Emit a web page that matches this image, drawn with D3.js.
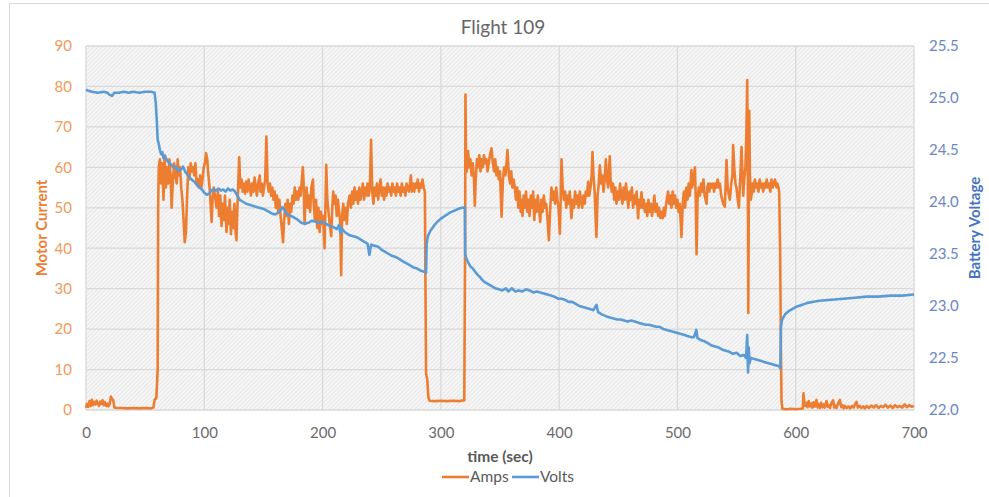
<!DOCTYPE html>
<html>
<head>
<meta charset="utf-8">
<script src="https://cdn.jsdelivr.net/npm/d3@7"></script>
<style>
    html, body { margin: 0; padding: 0; background: #fff; }
    svg { display: block; font-family: Lato, "Open Sans", sans-serif; }
</style>
</head>
<body>
<svg id="chart" width="989" height="497"></svg>
<script>
// values: [time (sec), value]
const ampsSeries = [
    [0,0.5],[1,1.5],[2,0.8],[3,2.2],[4,1.0],[5,2.5],[6,1.2],[7,2.0],[8,1.4],[9,2.3],[10,1.6],[11,1.0],[12,2.1],
    [13,1.5],[14,2.4],[15,1.2],[16,1.9],[17,1.0],[18,1.6],[19,0.9],[20,1.4],[21,3.3],[22,2.8],[23,2.4],[24,0.6],
    [26,0.5],[30,0.5],[35,0.4],[40,0.5],[45,0.4],[50,0.5],[55,0.4],[57,0.6],[58,2.5],[59.5,3.0],[60.6,10],
    [61,50],[61.5,60],[62.5,62],[63.5,56],[64.5,61],[65.5,52],[66.5,63],[67.5,55],[68.5,60],[69.5,56],[70.5,62],
    [71.5,58],[72.4,50],[73.5,57],[74.5,61],[75.5,58],[76.7,56],[77.5,62],[78.5,58],[79.5,60],[80.5,55],[81.5,52],
    [82.5,47],[83.5,41.5],[84.5,44],[85.5,53],[86.5,60],[87.5,57],[88.5,61],[89.5,59],[90.7,60],[91.5,58],[92.5,61],
    [93.5,56],[94.5,57],[95.5,55],[96.5,58],[97.5,55],[98.5,57],[99.5,60],[100.5,61],[101.5,63.5],[102.5,62],
    [103.5,58],[104.5,55],[105.5,50],[106.2,46.5],[107,52],[108,55],[109,53],[110.4,50],[111.5,54],[112.5,48],
    [113.5,53],[114.6,45.5],[115.5,51],[116.5,47],[117.5,53],[118.8,44],[119.5,50],[120.5,46],[121.5,52],
    [122.5,43.5],[123.5,49],[124.5,45],[125.5,51],[126.5,44],[127.2,42],[128,50],[129.5,62.5],[130.5,55],
    [131.5,57],[132.5,54],[133.5,56],[134.5,53.5],[135.5,56.5],[136.5,54],[137.5,57],[138.5,55],[139.5,53],
    [140.5,56],[141.5,54],[142.5,57.5],[143.5,55],[144.5,53],[145.5,56],[146.9,58],[147.5,54],[148.5,56],
    [149.5,53],[150.5,55],[151.5,57],[152.5,67.6],[153.5,56],[154.5,54],[155.5,56],[156.5,53],[157.5,55],
    [158.5,52],[159.5,54],[160.5,50],[161.5,53],[162.5,49],[163.5,52],[164.5,48],[165.5,45],[166.6,41.5],
    [167.5,47],[168.5,51],[169.5,48],[170.5,52],[171.5,46],[172.5,51],[173.5,49],[174.5,53],[175.5,51],
    [176.5,55],[177.5,52],[178.5,54],[179.5,52],[180.5,55],[181.5,53],[182.5,57],[183.3,60],[184,56],[184.8,46],
    [185.5,52],[186.5,55],[187.5,50],[188.5,53],[189.5,49],[190.5,55],[191.9,57],[192.5,51],[193.5,47],
    [194.5,52],[195.5,45],[196.5,50],[197.5,44],[198.5,49],[199.5,46],[200.5,48],[201.7,40],[202.4,50],
    [203.1,60.6],[204,52],[205,49],[206,46],[207.3,43],[208.2,50],[209,54],[210,51],[211,53],[212,48],[213,52],
    [214,49],[215,46],[215.7,33.3],[216.5,48],[217.5,51],[218.5,47],[219.5,50],[220.5,46],[221.5,51],[222.8,53],
    [224,50],[225,54],[226,51],[227,55],[228,52],[229,54],[230,51],[231,55],[232,52],[233,54],[234,56],[235,52],
    [236,55],[237,53],[238,56],[239,53],[240,55],[241,66.8],[242,54],[243,51],[244,55],[245,53],[246,56],[247,52],
    [248,55],[249,57],[250,53],[251,55],[252,52],[253,55],[254,53],[255,56],[256,54],[257,55],[258,53],[259,56],
    [260,54],[261,55],[262,53],[263,56],[264,54],[265,55],[266,53],[267,56],[268,54],[269,55],[270,53],[271,56],
    [272,55],[273,54],[274.7,58],[275.5,54],[276.5,56],[277.5,54],[278.5,56],[279.5,55],[280.5,57],[281.5,54],
    [282.5,56],[283.5,55],[284.5,57],[285.5,55],[286.5,54],[287,30],[287.5,9],[288.5,7.5],[289.5,3],[290.5,2.3],
    [295,2.2],[300,2.3],[305,2.2],[310,2.3],[315,2.2],[319.8,2.4],[320.5,40],[320.8,78],[321.3,62],[322,59],
    [323,64],[324,60],[325,62],[326,58],[327,61],[328,57],[328.7,50.5],[329.5,57],[330.5,62],[331.5,60],
    [332.5,63],[333.5,59],[334.5,62],[335.5,60],[336.5,63],[337.5,61],[338.5,62],[339.5,59],[340.5,61],
    [341.5,63],[342.8,64.7],[344,61],[345,59],[346,62],[347,58],[348,60],[349,57],[350,59],[351.3,47.8],
    [352.5,57],[353.5,60],[354.5,58],[355.5,61],[356.3,64.3],[357.5,58],[358.5,56],[359.5,59],[360.5,55],
    [361.5,57],[362.5,55],[363.5,52],[364.5,55],[365.5,50],[366.5,54],[367.5,49],[368.2,52],[369,48],[370,53],
    [371,50],[372,54],[373,49],[374,52],[375,48],[376,53],[377,50],[378,54],[379,47],[380,52],[381,49],[382,53],
    [383,50],[384,46.5],[385,52],[386,49],[387,53],[388,50],[389,51],[390,48],[391.3,42],[392.5,50],[393.5,55],
    [394.5,52],[395.5,54],[396.5,51],[397.5,55],[398.5,52],[399.5,50],[400.6,43.6],[401.3,52],[402,62],[403,55],
    [404,52],[405,54],[406,50],[407,53],[408,51],[409,54],[410.4,47.4],[411.5,52],[412.5,50],[413.5,54],
    [414.5,51],[415.5,53],[416.5,50],[417.5,54],[418.5,52],[419.5,50],[420.5,53],[421.7,51],[422.5,54],
    [423.5,53],[424.5,56.4],[425.5,53],[426.5,55],[427.5,58],[428.2,63.8],[429,58],[430,54],[431.5,42.8],
    [432.5,53],[433.5,56],[434.4,60.5],[435.5,56],[436.5,58],[437.5,54],[438.5,57],[439.5,62],[440.5,57],
    [441.5,55],[442.8,62.7],[443.5,57],[444.5,54],[445.5,56],[446.5,52],[447.5,55],[448.5,51],[449.5,54],
    [450.5,52],[451.5,56],[452.5,53],[453.5,51],[454.5,55],[455.5,52],[456.5,56],[457.5,53],[458.5,50],
    [459.5,54],[460.5,52],[461.5,55],[462.5,50],[463.5,53],[464.5,51],[465.5,54],[466.8,47.4],[467.5,52],
    [468.5,50],[469.6,53.8],[470.5,50],[471.5,52],[472.5,49],[473.5,51],[474.5,48],[475.5,52],[476.5,49],
    [477.5,51],[478.5,48],[479.5,50],[480.5,53],[481.5,49],[482.5,51],[483.7,48],[484.5,50],[485.5,47.5],
    [486.5,49],[487.5,47.4],[488.5,50],[489.3,48],[490.5,51],[491.5,53],[492.1,54],[493,51],[494,53],[495,50],
    [496,54],[497,51],[498,53],[499,50],[500,52],[501,49],[502,51],[503.4,42.8],[504.5,51],[505.5,54],
    [506.5,50],[507.5,55],[508.5,52],[509.5,56],[510.5,53],[511.8,59.3],[512.5,55],[513.5,57],[514.8,60],
    [515.5,52],[516.2,38.5],[517,52],[518,55],[519,53],[520,56],[521,54],[522,57],[523,53],[524.6,51],
    [525.3,55],[526,56],[527,54],[528,56],[529,55],[530,56],[531,54],[532,56],[533,55],[534,57],[535,55],
    [535.9,56],[537,53],[538.7,51],[540.1,50.3],[541.5,61.8],[542.5,55],[543.5,53],[544.3,52],[545.5,56],
    [546.5,58],[547.1,65.5],[548,60],[549,56],[549.9,55],[551,52],[552,50],[552.7,55],[553.5,60],[554.2,65],
    [555,58],[555.6,53],[556.5,57],[557.5,60],[558.4,70],[559,81.6],[559.5,60],[559.9,24],[560.3,50],[560.7,74],
    [561.3,58],[562,52],[562.6,53],[563.5,56],[564.5,54],[565.5,57],[566.5,55],[567.5,56],[568.5,54],
    [569.5,57],[570.5,55],[571.5,56],[572.5,54],[573.5,56],[574.5,55],[575.5,57],[576.5,55],[577.5,56],
    [578.5,54],[579.5,57],[580.5,55],[581.5,56],[582.5,57],[583.8,55],[584.5,56],[585.5,55],[586,54],
    [586.8,40],[587.5,15],[588,2],[588.8,0.3],[592,0.2],[596,0.3],[600,0.2],[604,0.3],[606,0.4],[606.6,4.1],
    [607.2,2.0],[608,1.0],[609,1.8],[610,0.7],[611,2.2],[612,0.9],[613,1.6],[614,0.6],[615,1.9],[616,0.8],
    [617.6,2.5],[618.5,0.6],[619.5,1.5],[620.5,0.5],[621.5,1.8],[622.5,0.7],[623.5,1.4],[624.5,0.6],[626,2.2],
    [627,0.8],[628,1.2],[629,0.5],[630,1.6],[631.7,2.4],[632.5,0.6],[633.5,1.1],[634.5,0.5],[635.5,1.4],
    [637.3,2.5],[638.5,0.7],[639.5,1.2],[640.5,0.4],[641.5,1.0],[643,0.5],[644.5,0.9],[646,0.4],[647.5,1.0],
    [649,0.6],[650,1.3],[651.4,2.0],[652.5,0.6],[654,1.0],[655.5,0.5],[657,0.9],[658.5,0.4],[660,1.0],[662,0.5],
    [664,1.1],[666,0.6],[668,1.2],[670,0.5],[672,1.0],[674,0.7],[676,1.3],[678,0.6],[680,1.1],[682,0.5],
    [684,1.2],[686,0.7],[688,1.0],[690,0.6],[692,1.4],[694,0.7],[696,1.2],[698,0.8],[700,1.0]
];

const voltsSeries = [
    [0,25.08],[2,25.07],[5,25.06],[10,25.05],[15,25.06],[18,25.05],[20,25.03],[22,25.02],[24,25.05],[28,25.05],
    [32,25.06],[36,25.05],[40,25.06],[45,25.05],[50,25.06],[55,25.06],[58,25.05],[59,24.95],[60,24.75],
    [60.6,24.6],[61.5,24.56],[62.5,24.5],[63.5,24.46],[64.5,24.48],[65.5,24.42],[67,24.44],[68.5,24.4],
    [70,24.38],[72,24.36],[74,24.33],[76,24.34],[78,24.3],[80,24.31],[82,24.34],[84,24.29],[86,24.26],[88,24.23],
    [90,24.21],[92,24.19],[94,24.16],[96,24.14],[98,24.12],[100,24.09],[102,24.07],[104,24.08],[106,24.11],
    [108,24.12],[110,24.11],[112,24.13],[114,24.11],[116,24.12],[118,24.1],[120,24.13],[122,24.11],[124,24.12],
    [126,24.1],[128,24.06],[130,24.02],[133,24.0],[136,23.98],[139,23.97],[142,23.96],[145,23.95],[148,23.94],
    [151,23.93],[154,23.91],[157,23.89],[160,23.88],[163,23.9],[166,23.95],[168,23.92],[170,23.88],[173,23.87],
    [176,23.85],[179,23.83],[182,23.8],[185,23.79],[188,23.8],[191,23.82],[194,23.81],[197,23.8],[200,23.81],
    [203,23.79],[206,23.77],[209,23.76],[212,23.74],[214,23.78],[215,23.7],[216,23.75],[218,23.72],[220,23.7],
    [223,23.68],[226,23.67],[229,23.66],[232,23.64],[235,23.62],[238,23.6],[239.6,23.49],[241,23.59],
    [244,23.58],[247,23.57],[250,23.54],[253,23.52],[256,23.5],[259,23.48],[262,23.47],[265,23.45],[268,23.43],
    [271,23.41],[274,23.39],[277,23.37],[280,23.36],[283,23.34],[286,23.33],[287.5,23.32],[288,23.6],
    [289,23.67],[291,23.72],[294,23.77],[297,23.81],[300,23.84],[304,23.87],[308,23.9],[312,23.92],[316,23.94],
    [320.3,23.95],[320.6,23.5],[321.5,23.46],[323,23.42],[325,23.38],[327,23.36],[329,23.33],[331,23.3],
    [333,23.28],[335,23.25],[337,23.23],[340,23.21],[343,23.19],[346,23.17],[349,23.16],[352,23.15],
    [355,23.17],[357,23.14],[360,23.17],[363,23.14],[366,23.15],[369,23.14],[372,23.16],[375,23.15],
    [378,23.13],[381,23.14],[384,23.13],[387,23.12],[390,23.11],[393,23.1],[396,23.09],[399,23.07],[402,23.07],
    [405,23.06],[408,23.04],[411,23.04],[414,23.02],[417,23.0],[420,22.99],[423,22.98],[426,22.97],[429,22.96],
    [431.6,23.01],[433,22.94],[436,22.92],[440,22.9],[443,22.89],[446,22.88],[449,22.87],[452,22.87],
    [455,22.86],[458,22.85],[461,22.86],[464,22.85],[467,22.84],[470,22.83],[473,22.82],[476,22.82],
    [479,22.81],[482,22.8],[485,22.8],[488,22.78],[491,22.77],[494,22.76],[497,22.75],[500,22.74],[503,22.73],
    [506,22.72],[509,22.71],[512,22.7],[514,22.7],[516,22.77],[517,22.69],[520,22.67],[523,22.66],[526,22.64],
    [529,22.62],[532,22.61],[535,22.6],[538,22.58],[541,22.57],[544,22.56],[547,22.54],[550,22.55],[553,22.52],
    [556,22.53],[558,22.5],[559,22.72],[559.7,22.36],[560.3,22.6],[561,22.45],[562,22.5],[565,22.49],
    [568,22.48],[571,22.47],[574,22.46],[577,22.45],[580,22.44],[583,22.43],[586,22.42],[587,22.4],
    [587.5,22.8],[588.5,22.87],[591,22.92],[594,22.95],[597,22.97],[600,22.99],[605,23.01],[610,23.03],
    [615,23.04],[620,23.05],[630,23.06],[640,23.07],[650,23.08],[660,23.09],[670,23.09],[680,23.1],[690,23.1],
    [700,23.11]
];

const timeTicks = [0, 100, 200, 300, 400, 500, 600, 700];
const ampsTicks = [0, 10, 20, 30, 40, 50, 60, 70, 80, 90];
const voltsTicks = [22.0, 22.5, 23.0, 23.5, 24.0, 24.5, 25.0, 25.5];

const COLORS = {
    amps: "#ED7D31",
    volts: "#5B9BD5",
    grid: "#d9d9d9",
    text: "#6b6b6b"
};

const svg = d3.select("#chart");
const plot = { left: 86, right: 914, top: 46, bottom: 410 };

const xScale = d3.scaleLinear().domain([0, 700]).range([plot.left, plot.right]);
const yAmps = d3.scaleLinear().domain([0, 90]).range([plot.bottom, plot.top]);
const yVolts = d3.scaleLinear().domain([22, 25.5]).range([plot.bottom, plot.top]);

// outer chart frame (only left and top edges are inside the window)
svg.append("rect")
    .attr("x", 9.5)
    .attr("y", 3.5)
    .attr("width", 1000)
    .attr("height", 520)
    .attr("fill", "#fff")
    .attr("stroke", "#d9d9d9");

// hatched plot-area fill
const defs = svg.append("defs");
const hatch = defs.append("pattern")
    .attr("id", "hatch")
    .attr("patternUnits", "userSpaceOnUse")
    .attr("width", 3)
    .attr("height", 3)
    .attr("patternTransform", "rotate(45)");
hatch.append("rect").attr("width", 3).attr("height", 3).attr("fill", "#f6f6f6");
hatch.append("line")
    .attr("x1", 0).attr("y1", 0).attr("x2", 0).attr("y2", 3)
    .attr("stroke", "#dedede")
    .attr("stroke-width", 1.2);

svg.append("rect")
    .attr("x", plot.left)
    .attr("y", plot.top)
    .attr("width", plot.right - plot.left)
    .attr("height", plot.bottom - plot.top)
    .attr("fill", "url(#hatch)");

// gridlines
const grid = svg.append("g").attr("class", "grid");
grid.selectAll(".vgrid")
    .data(timeTicks)
    .enter()
    .append("line")
    .attr("x1", (d) => xScale(d))
    .attr("x2", (d) => xScale(d))
    .attr("y1", plot.top)
    .attr("y2", plot.bottom)
    .attr("stroke", COLORS.grid)
    .attr("stroke-width", 1.3);
grid.selectAll(".hgrid")
    .data(ampsTicks)
    .enter()
    .append("line")
    .attr("x1", plot.left)
    .attr("x2", plot.right)
    .attr("y1", (d) => yAmps(d))
    .attr("y2", (d) => yAmps(d))
    .attr("stroke", COLORS.grid)
    .attr("stroke-width", 1.3);

// axes, no domain lines or tick marks
const styleAxis = (g, color) => {
    g.select(".domain").remove();
    g.selectAll("line").remove();
    g.selectAll("text").attr("font-size", 15).attr("fill", color).attr("font-family", "Lato, sans-serif");
};

svg.append("g")
    .attr("transform", `translate(0,${plot.bottom})`)
    .call(d3.axisBottom(xScale).tickValues(timeTicks).tickSize(0).tickPadding(17).tickFormat(d3.format("d")))
    .call((g) => styleAxis(g, COLORS.text));

svg.append("g")
    .attr("transform", `translate(${plot.left},0)`)
    .call(d3.axisLeft(yAmps).tickValues(ampsTicks).tickSize(0).tickPadding(14).tickFormat(d3.format("d")))
    .call((g) => styleAxis(g, "#F0995A"));

svg.append("g")
    .attr("transform", `translate(${plot.right},0)`)
    .call(d3.axisRight(yVolts).tickValues(voltsTicks).tickSize(0).tickPadding(15).tickFormat(d3.format(".1f")))
    .call((g) => styleAxis(g, "#6A86C8"));

// series
const ampsLine = d3.line().x((d) => xScale(d[0])).y((d) => yAmps(d[1]));
const voltsLine = d3.line().x((d) => xScale(d[0])).y((d) => yVolts(d[1]));

svg.append("path")
    .datum(ampsSeries)
    .attr("d", ampsLine)
    .attr("fill", "none")
    .attr("stroke", COLORS.amps)
    .attr("stroke-width", 2.6)
    .attr("stroke-linejoin", "round");

svg.append("path")
    .datum(voltsSeries)
    .attr("d", voltsLine)
    .attr("fill", "none")
    .attr("stroke", COLORS.volts)
    .attr("stroke-width", 2.6)
    .attr("stroke-linejoin", "round");

// titles
svg.append("text")
    .attr("x", 503)
    .attr("y", 34)
    .attr("text-anchor", "middle")
    .attr("font-size", 19)
    .attr("fill", "#666")
    .text("Flight 109");

svg.append("text")
    .attr("transform", `translate(47,${(plot.top + plot.bottom) / 2}) rotate(-90)`)
    .attr("text-anchor", "middle")
    .attr("font-size", 15)
    .attr("font-weight", "bold")
    .attr("fill", COLORS.amps)
    .text("Motor Current");

svg.append("text")
    .attr("transform", `translate(980,${(plot.top + plot.bottom) / 2}) rotate(-90)`)
    .attr("text-anchor", "middle")
    .attr("font-size", 15)
    .attr("font-weight", "bold")
    .attr("fill", "#4472C4")
    .text("Battery Voltage");

svg.append("text")
    .attr("x", 500)
    .attr("y", 462)
    .attr("text-anchor", "middle")
    .attr("font-size", 15.5)
    .attr("font-weight", "bold")
    .attr("fill", "#595959")
    .text("time (sec)");

// legend
const legendItems = [
    { name: "Amps", color: COLORS.amps, x: 442 },
    { name: "Volts", color: COLORS.volts, x: 512 }
];
const legend = svg.append("g").attr("class", "legend");
legendItems.forEach((d) => {
    legend.append("line")
        .attr("x1", d.x)
        .attr("x2", d.x + 27)
        .attr("y1", 477)
        .attr("y2", 477)
        .attr("stroke", d.color)
        .attr("stroke-width", 2.6);
    legend.append("text")
        .attr("x", d.x + 28)
        .attr("y", 482)
        .attr("font-size", 15.5)
        .attr("fill", "#595959")
        .text(d.name);
});
</script>
</body>
</html>
